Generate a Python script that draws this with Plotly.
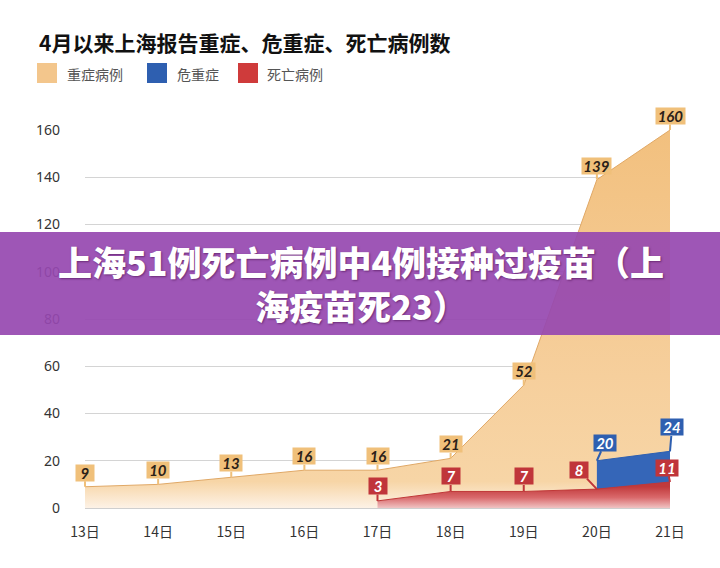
import plotly.graph_objects as go

# ---------------- data ----------------
days = ["13日", "14日", "15日", "16日", "17日", "18日", "19日", "20日", "21日"]
severe = [9, 10, 13, 16, 16, 21, 52, 139, 160]
critical_days = ["20日", "21日"]
critical = [20, 24]
death_days = ["17日", "18日", "19日", "20日", "21日"]
deaths = [3, 7, 7, 8, 11]
yticks = [0, 20, 40, 60, 80, 100, 120, 140, 160]

title_text = "4月以来上海报告重症、危重症、死亡病例数"
legend_names = ["重症病例", "危重症", "死亡病例"]
banner_lines = ["上海51例死亡病例中4例接种过疫苗（上", "海疫苗死23）"]

# ---------------- layout helpers ----------------
W, H = 720, 568
ML, MR, MT, MB = 85, 50, 130, 60
PW, PH = W - ML - MR, H - MT - MB


def px(x):
    return (x - ML) / PW


def py(y):
    return (H - MB - y) / PH


ORANGE = "#f3c68c"
BLUE = "#2e5fb0"
RED = "#c8363a"
CJK = "Noto Sans CJK SC"

fig = go.Figure()

fig.add_trace(go.Scatter(
    x=days, y=severe, mode="lines", fill="tozeroy",
    line=dict(color="#e0a866", width=1),
    fillgradient=dict(type="vertical", start=0, stop=160,
                      colorscale=[[0, "#fdf2e6"], [0.07, "#f7d5a6"],
                                  [0.35, "#f6cf9c"], [1, "#f2c07e"]]),
    hoverinfo="skip", showlegend=False))

fig.add_trace(go.Scatter(
    x=critical_days, y=critical, mode="lines", fill="tozeroy",
    line=dict(color=BLUE, width=1), fillcolor="#3566b8",
    hoverinfo="skip", showlegend=False))

fig.add_trace(go.Scatter(
    x=death_days, y=deaths, mode="lines", fill="tozeroy",
    line=dict(color="#c03838", width=1),
    fillgradient=dict(type="vertical", start=0, stop=9,
                      colorscale=[[0, "#f0c3c3"], [0.5, "#d9686a"], [1, "#c13a3c"]]),
    hoverinfo="skip", showlegend=False))

annotations = []
box_w = {1: 18, 2: 22, 3: 29}


def label(x, y, color, txtcolor, ax=0, ay=-15):
    annotations.append(dict(
        x=x, y=y, xref="x", yref="y",
        text=f"<b><i>{y}</i></b>", showarrow=True, arrowhead=0,
        arrowwidth=2, arrowcolor=color, ax=ax, ay=ay, standoff=0,
        bgcolor=color, borderpad=0, width=box_w[len(str(y))], height=16,
        font=dict(family="Lato", size=15, color=txtcolor)))


for d, v in zip(days, severe):
    label(d, v, "#f0c07a", "#2b2118", 0, -14)

blue_offsets = [(8, -18), (2, -24)]
for (d, v), (ax, ay) in zip(zip(critical_days, critical), blue_offsets):
    label(d, v, "#2e5fb0", "white", ax, ay)

red_offsets = [(0, -15), (0, -15), (0, -15), (-18, -19), (-3, -14)]
for (d, v), (ax, ay) in zip(zip(death_days, deaths), red_offsets):
    label(d, v, "#c0353a", "white", ax, ay)

# title
annotations.append(dict(
    x=px(37), y=py(42), xref="paper", yref="paper", xanchor="left", yanchor="middle",
    text=title_text, showarrow=False,
    font=dict(family=CJK, size=21, color="#111111", weight="bold")))

# legend
shapes = []
leg = [(37, 65, ORANGE), (147, 175, BLUE), (238, 265, "#cf3b3b")]
for (sx, tx, col), name in zip(leg, legend_names):
    shapes.append(dict(type="rect", xref="paper", yref="paper",
                       x0=px(sx), x1=px(sx + 20), y0=py(83), y1=py(63),
                       fillcolor=col, line=dict(width=0), layer="above"))
    annotations.append(dict(
        x=px(tx), y=py(74), xref="paper", yref="paper", xanchor="left", yanchor="middle",
        text=name, showarrow=False,
        font=dict(family=CJK, size=14, color="#555555")))

# purple banner
shapes.append(dict(type="rect", xref="paper", yref="paper",
                   x0=px(0), x1=px(W), y0=py(335), y1=py(232),
                   fillcolor="rgba(150,72,176,0.92)", line=dict(width=0), layer="above"))
annotations.append(dict(
    x=px(361), y=py(283), xref="paper", yref="paper", xanchor="center", yanchor="middle",
    text="<br>".join(banner_lines), showarrow=False, borderpad=0, align="center",
    font=dict(family=CJK, size=34, color="white", weight=900,
              shadow="1px 1px 2px rgba(60,0,60,0.5)")))

fig.update_layout(
    width=W, height=H,
    margin=dict(l=ML, r=MR, t=MT, b=MB),
    paper_bgcolor="white", plot_bgcolor="white",
    annotations=annotations, shapes=shapes,
    showlegend=False,
    xaxis=dict(type="category", range=[0, len(days) - 1], showgrid=False,
               showline=False, zeroline=False, ticks="", ticklabelstandoff=14,
               tickfont=dict(family=CJK, size=14, color="#333333")),
    yaxis=dict(range=[0, 160], tickvals=yticks, showgrid=True, gridcolor="#d4d4d4",
               gridwidth=1, zeroline=True, zerolinecolor="#cfcfcf", zerolinewidth=1,
               showline=False, ticks="", ticklabelstandoff=24,
               tickfont=dict(family="Noto Sans", size=14, color="#333333")),
)

fig.write_html("out.html")
